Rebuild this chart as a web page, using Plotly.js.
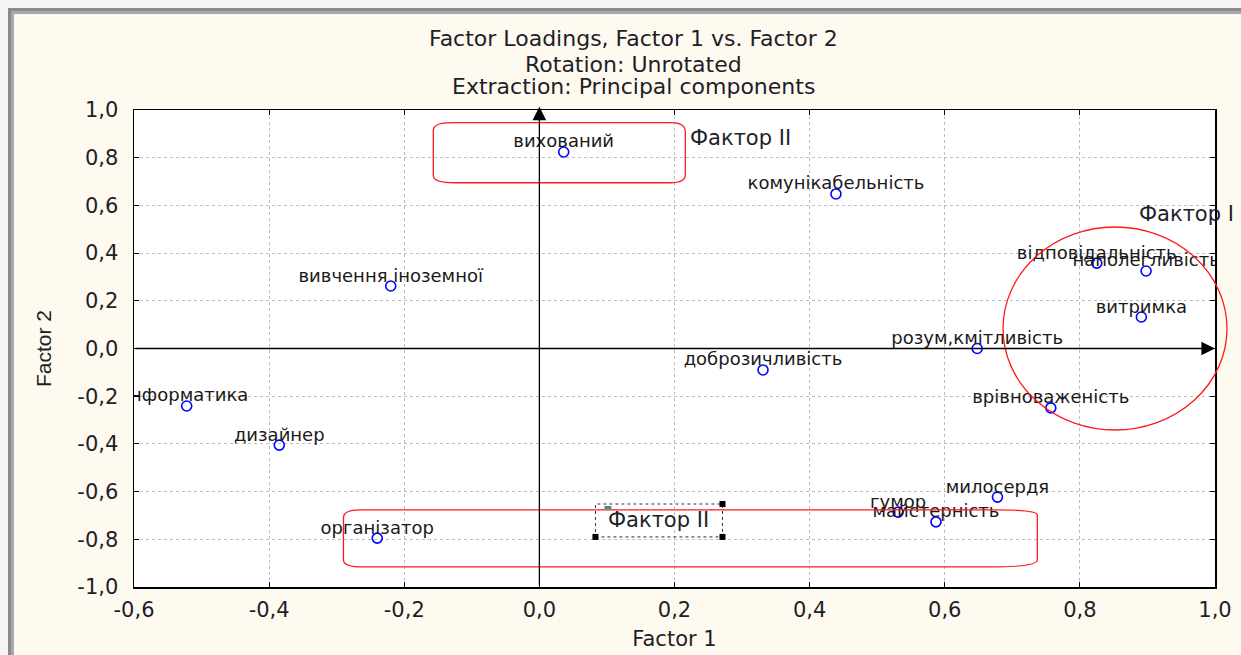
<!DOCTYPE html>
<html>
<head>
<meta charset="utf-8">
<script src="https://cdn.plot.ly/plotly-3.0.1.min.js"></script>
<style>
  html, body { margin: 0; padding: 0; background: #f4f4f4; width: 1241px; height: 655px; overflow: hidden; }
  #frameOuter { position: absolute; left: 8px; top: 8px; width: 1233px; height: 647px;
    border-left: 3px solid #8a8a8a; border-top: 3px solid #8a8a8a; box-sizing: border-box; background: #b4b4b4; }
  #frameInner { position: absolute; left: 11px; top: 11px; width: 1230px; height: 644px;
    border-left: 3px solid #a9a9a9; border-top: 3px solid #a9a9a9; box-sizing: border-box; background: #fffaf0; }
  #chart { position: absolute; left: 14px; top: 14px; width: 1227px; height: 641px; }
</style>
</head>
<body>
<div id="frameOuter"></div>
<div id="frameInner"></div>
<div id="chart"></div>
<script>
// ---- data ----
const labels = [
  "вихований", "комунікабельність", "вивчення іноземної", "відповідальність",
  "наполегливість", "витримка", "розум,кмітливість", "доброзичливість",
  "врівноваженість", "інформатика", "дизайнер", "організатор",
  "гумор", "майстерність", "милосердя"
];
const factor1 = [0.036, 0.439, -0.220, 0.825, 0.898, 0.891, 0.648, 0.331, 0.757, -0.522, -0.385, -0.240, 0.531, 0.587, 0.678];
const factor2 = [0.824, 0.648, 0.262, 0.358, 0.325, 0.132, 0.000, -0.090, -0.249, -0.241, -0.405, -0.795, -0.686, -0.727, -0.623];

const xTickVals = [-0.6, -0.4, -0.2, 0.0, 0.2, 0.4, 0.6, 0.8, 1.0];
const xTickLabels = ["-0,6", "-0,4", "-0,2", "0,0", "0,2", "0,4", "0,6", "0,8", "1,0"];
const yTickVals = [-1.0, -0.8, -0.6, -0.4, -0.2, 0.0, 0.2, 0.4, 0.6, 0.8, 1.0];
const yTickLabels = ["-1,0", "-0,8", "-0,6", "-0,4", "-0,2", "0,0", "0,2", "0,4", "0,6", "0,8", "1,0"];

const titleLines = ["Factor Loadings, Factor 1 vs. Factor 2", "Rotation: Unrotated", "Extraction: Principal components"];
const noteTexts = ["Фактор II", "Фактор I", "Фактор II"];

// ---- layout helpers ----
const W = 1227, H = 641;
const M = { l: 120, r: 26, t: 96, b: 68 };
const plotW = W - M.l - M.r, plotH = H - M.t - M.b;
const XR = [-0.6, 1.0], YR = [-1.0, 1.0];
const dx = (XR[1] - XR[0]) / plotW, dy = (YR[1] - YR[0]) / plotH;
// page-pixel y (page offset 14) -> paper y
const pyToPaper = py => (587 - py) / plotH;

function rrect(x0, y0, x1, y1, c) {
  const tl = [c.tl[0] * dx, c.tl[1] * dy], tr = [c.tr[0] * dx, c.tr[1] * dy];
  const br = [c.br[0] * dx, c.br[1] * dy], bl = [c.bl[0] * dx, c.bl[1] * dy];
  return `M ${x0 + tl[0]},${y1} L ${x1 - tr[0]},${y1} Q ${x1},${y1} ${x1},${y1 - tr[1]} ` +
         `L ${x1},${y0 + br[1]} Q ${x1},${y0} ${x1 - br[0]},${y0} ` +
         `L ${x0 + bl[0]},${y0} Q ${x0},${y0} ${x0},${y0 + bl[1]} ` +
         `L ${x0},${y1 - tl[1]} Q ${x0},${y1} ${x0 + tl[0]},${y1} Z`;
}

const red = "#ff1a1a";
const shapes = [
  { type: "path", xref: "x", yref: "y", layer: "above",
    path: rrect(-0.157, 0.695, 0.216, 0.947, { tl: [18, 8], tr: [15, 9], br: [15, 8], bl: [22, 7] }),
    line: { color: red, width: 1.3 } },
  { type: "path", xref: "x", yref: "y", layer: "above",
    path: rrect(-0.290, -0.916, 0.737, -0.677, { tl: [17, 8], tr: [40, 5], br: [50, 7], bl: [20, 7] }),
    line: { color: red, width: 1.3 } },
  { type: "circle", xref: "paper", yref: "paper", layer: "above",
    x0: 0.8039, x1: 1.0111, y0: 0.3291, y1: 0.7547,
    line: { color: red, width: 1.3 } },
  { type: "rect", xref: "x", yref: "y", layer: "above",
    x0: 0.083, x1: 0.271, y0: -0.790, y1: -0.652,
    line: { color: "#333333", width: 1, dash: "dot" } }
];
// selection handles of the text box
[[0.271, -0.652], [0.083, -0.790], [0.271, -0.790]].forEach(p => {
  shapes.push({ type: "rect", xref: "x", yref: "y", layer: "above",
    x0: p[0] - 3 * dx, x1: p[0] + 3 * dx, y0: p[1] - 3 * dy, y1: p[1] + 3 * dy,
    fillcolor: "#000", line: { width: 0 } });
});
shapes.push({ type: "rect", xref: "x", yref: "y", layer: "above",
  x0: 0.083 + 9 * dx, x1: 0.083 + 16 * dx, y0: -0.652 - 5 * dy, y1: -0.652 - 2 * dy,
  fillcolor: "#2a9a9a", line: { width: 0 } });

const fam = "DejaVu Sans, Verdana, sans-serif";
const txtColor = "#1e1e28";
const titleX = (633 - 134) / plotW;
const annotations = [
  // axis arrows
  { x: 0, y: 1.014, ax: 0, ay: -1, xref: "x", yref: "y", axref: "x", ayref: "y",
    text: "", showarrow: true, arrowhead: 2, arrowsize: 2.1, arrowwidth: 1.3, arrowcolor: "#000" },
  { x: 1.0, y: 0, ax: -0.6, ay: 0, xref: "x", yref: "y", axref: "x", ayref: "y",
    text: "", showarrow: true, arrowhead: 2, arrowsize: 2.1, arrowwidth: 1.3, arrowcolor: "#000" },
  // title
  { text: titleLines[0], xref: "paper", yref: "paper", x: titleX, y: pyToPaper(38), showarrow: false,
    xanchor: "center", yanchor: "middle", font: { family: fam, size: 22, color: txtColor } },
  { text: titleLines[1], xref: "paper", yref: "paper", x: titleX, y: pyToPaper(64), showarrow: false,
    xanchor: "center", yanchor: "middle", font: { family: fam, size: 22, color: txtColor } },
  { text: titleLines[2], xref: "paper", yref: "paper", x: titleX, y: pyToPaper(87), showarrow: false,
    xanchor: "center", yanchor: "middle", font: { family: fam, size: 22, color: txtColor } },
  // factor notes
  { text: noteTexts[0], xref: "x", yref: "y", x: 0.220, y: 0.883, showarrow: false,
    xanchor: "left", yanchor: "middle", font: { family: fam, size: 21, color: txtColor } },
  { text: noteTexts[1], xref: "x", yref: "y", x: 0.885, y: 0.564, showarrow: false,
    xanchor: "left", yanchor: "middle", font: { family: fam, size: 21, color: txtColor } },
  { text: noteTexts[2], xref: "x", yref: "y", x: 0.177, y: -0.721, showarrow: false,
    xanchor: "center", yanchor: "middle", font: { family: fam, size: 21, color: txtColor } }
];

const markerTrace = {
  type: "scatter", mode: "markers",
  x: factor1, y: factor2, cliponaxis: true,
  marker: { symbol: "circle-open", size: 10, color: "#0000ff", line: { width: 1.6, color: "#0000ff" } },
  hoverinfo: "skip"
};
const labelTrace = {
  type: "scatter", mode: "text",
  x: factor1, y: factor2, text: labels,
  textposition: "top center", cliponaxis: true,
  textfont: { family: fam, size: 18, color: "#1a1a1a" },
  hoverinfo: "text"
};

const axisCommon = {
  showline: true, linecolor: "#000", linewidth: 1.5, mirror: "ticks",
  ticks: "inside", ticklen: 5, tickcolor: "#000", tickwidth: 1,
  showgrid: true, gridcolor: "#bcbcbc", griddash: "dot", gridwidth: 1,
  zeroline: false, fixedrange: true,
  tickfont: { family: fam, size: 21, color: txtColor }
};

const layout = {
  width: W, height: H,
  margin: M,
  paper_bgcolor: "#fffaf0", plot_bgcolor: "#ffffff",
  showlegend: false,
  separators: ",.",
  xaxis: Object.assign({}, axisCommon, {
    range: XR, tickmode: "array", tickvals: xTickVals, ticktext: xTickLabels,
    ticklabelstandoff: 3,
    title: { text: "Factor 1", standoff: 10, font: { family: fam, size: 21, color: txtColor } }
  }),
  yaxis: Object.assign({}, axisCommon, {
    range: YR, tickmode: "array", tickvals: yTickVals, ticktext: yTickLabels,
    ticklabelstandoff: 10,
    title: { text: "Factor 2", standoff: 20, font: { family: "Liberation Sans, Arial, sans-serif", size: 21, color: txtColor } }
  }),
  shapes: shapes,
  annotations: annotations
};

Plotly.newPlot("chart", [markerTrace, labelTrace], layout, { displayModeBar: false, staticPlot: true });
</script>
</body>
</html>
